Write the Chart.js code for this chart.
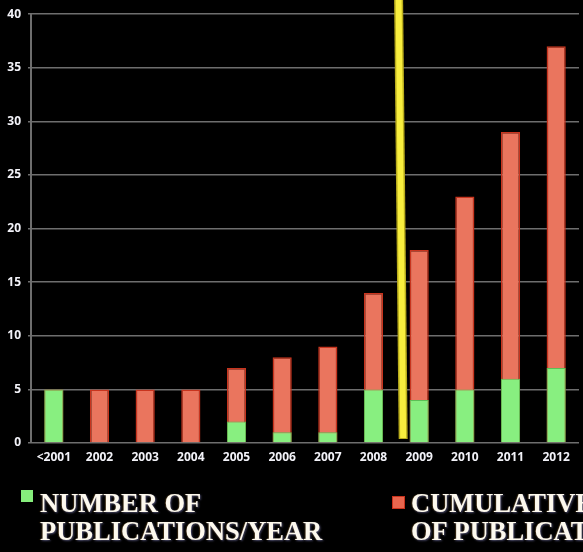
<!DOCTYPE html>
<html>
<head>
<meta charset="utf-8">
<script src="https://cdn.jsdelivr.net/npm/chart.js@4/dist/chart.umd.min.js"></script>
<style>
  html, body { margin:0; padding:0; background:#000; }
  #wrap { position:relative; width:583px; height:552px; overflow:hidden; background:#000; }
  #chart { position:absolute; left:0; top:0; }
  .leg { position:absolute; font-family:'Liberation Serif', 'Times New Roman', serif; font-weight:bold;
         font-size:26.5px; line-height:28px; color:#fdf9ee; white-space:nowrap;
         text-shadow:1px 1px 2px #4a4a6a, -1px 0 1px #3a2a10; }
  .sq { position:absolute; width:12px; height:12px; }
</style>
</head>
<body>
<div id="wrap">
  <canvas id="chart" width="583" height="552"></canvas>
  <div class="sq" style="left:21px;top:490px;background:#86ee7c;"></div>
  <div class="leg" style="left:40px;top:489px;">NUMBER OF<br>PUBLICATIONS/YEAR</div>
  <div class="sq" style="left:392px;top:496px;background:#e8664e;border:1px solid #c8321c;width:11px;height:11px;"></div>
  <div class="leg" style="left:411px;top:489px;">CUMULATIVE NUMBER<br>OF PUBLICATIONS</div>
</div>
<script>
// ============ DATA ============
const categories = ['<2001','2002','2003','2004','2005','2006','2007','2008','2009','2010','2011','2012'];
const perYear    = [5, 0, 0, 0, 2, 1, 1, 5, 4, 5, 6, 7];
const cumulative = [5, 5, 5, 5, 7, 8, 9, 14, 18, 23, 29, 37];
const yTicks     = [0, 5, 10, 15, 20, 25, 30, 35, 40];
// yellow divider sits between 2008 and 2009 (category index units)
const dividerTop = 7.55, dividerBottom = 7.65;

const tickFont = { family:'Open Sans, Liberation Sans, sans-serif', size:12, weight:'bold' };

// yellow marker line, drawn over the bars
const dividerPlugin = {
  id:'divider',
  afterDatasetsDraw(chart) {
    const x = chart.scales.x, y = chart.scales.y, c = chart.ctx;
    const x0 = x.getPixelForValue(dividerTop), x1 = x.getPixelForValue(dividerBottom);
    const yb = y.getPixelForValue(0) - 4;
    c.save();
    c.lineCap = 'butt';
    c.strokeStyle = '#b9ac1c'; c.lineWidth = 9;
    c.beginPath(); c.moveTo(x0, 0); c.lineTo(x1, yb); c.stroke();
    c.strokeStyle = '#f8ee3e'; c.lineWidth = 6;
    c.beginPath(); c.moveTo(x0, 0); c.lineTo(x1, yb - 1); c.stroke();
    c.restore();
  }
};

new Chart(document.getElementById('chart'), {
  type:'bar',
  data:{
    labels:categories,
    datasets:[
      { label:'Number of publications/year', data:perYear, grouped:false,
        backgroundColor:'#88ef80', borderColor:'#5cbf56', borderWidth:1 },
      { label:'Cumulative number of publications', data:cumulative, grouped:false,
        backgroundColor:'#ea755e', borderColor:'#c8341e', borderWidth:1.5 }
    ]
  },
  options:{
    responsive:false, animation:false,
    layout:{ padding:{ top:12, right:4, bottom:79, left:0 } },
    datasets:{ bar:{ categoryPercentage:1, barPercentage:0.42 } },
    plugins:{ legend:{ display:false }, tooltip:{ enabled:false } },
    scales:{
      x:{
        grid:{ display:false, drawTicks:false },
        border:{ display:false },
        ticks:{ color:'#f2f2f8', font:tickFont, padding:7, maxRotation:0, autoSkip:false },
        afterFit(s) { s.height = 30; }
      },
      y:{
        min:0, max:40,
        afterBuildTicks(s) { s.ticks = yTicks.map(v => ({ value:v })); },
        grid:{ color:'#6e6e6e', lineWidth:1.6, tickLength:3 },
        border:{ display:true, color:'#6e6e6e', width:2 },
        ticks:{ color:'#f2f2f8', font:tickFont, padding:7 },
        afterFit(s) { s.width = 31; }
      }
    }
  },
  plugins:[dividerPlugin]
});
</script>
</body>
</html>
